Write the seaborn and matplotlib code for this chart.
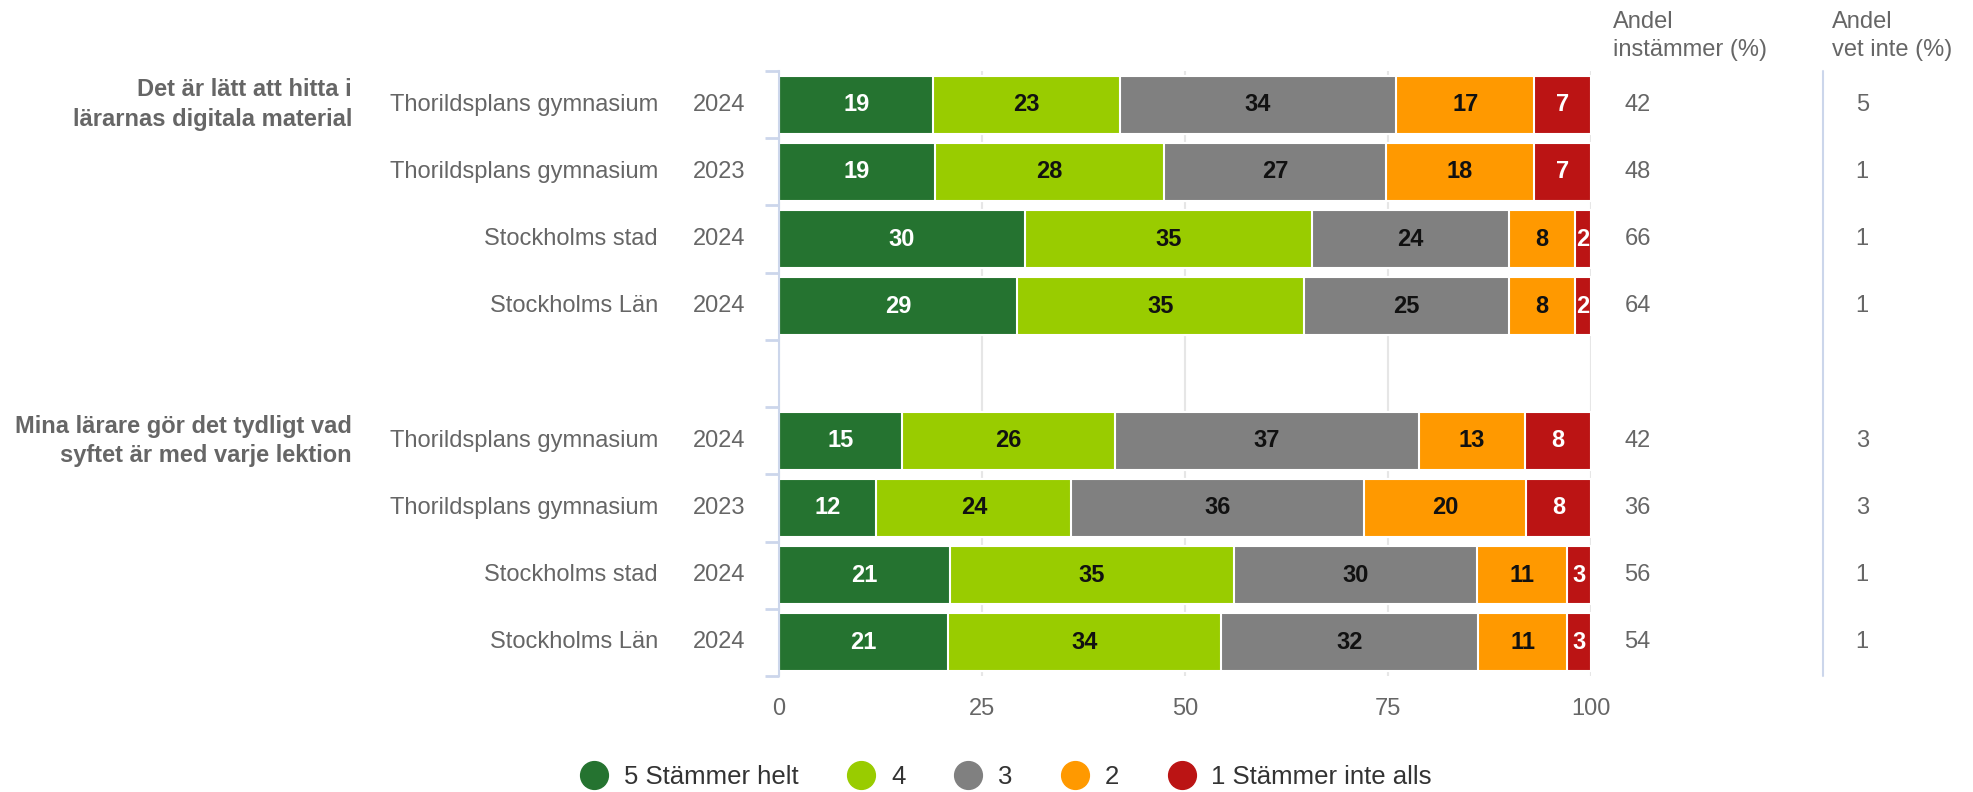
import numpy as np
import pandas as pd
import seaborn as sns
import matplotlib.pyplot as plt
from matplotlib.lines import Line2D

sns.set_theme(style="white")
plt.rcParams['font.family'] = ['Liberation Sans', 'DejaVu Sans']

questions = ['Det är lätt att hitta i\nlärarnas digitala material',
             'Mina lärare gör det tydligt vad\nsyftet är med varje lektion']
units = ['Thorildsplans gymnasium', 'Thorildsplans gymnasium', 'Stockholms stad', 'Stockholms Län']
years = ['2024', '2023', '2024', '2024']
levels = ['5 Stämmer helt', '4', '3', '2', '1 Stämmer inte alls']
colors = ['#257330', '#99cc00', '#808080', '#ff9900', '#bb1414']
label_colors = ['white', '#111111', '#111111', '#111111', 'white']

q1_values = [[19, 23, 34, 17, 7], [19, 28, 27, 18, 7], [30, 35, 24, 8, 2], [29, 35, 25, 8, 2]]
q2_values = [[15, 26, 37, 13, 8], [12, 24, 36, 20, 8], [21, 35, 30, 11, 3], [21, 34, 32, 11, 3]]
q1_agree = [42, 48, 66, 64]
q2_agree = [42, 36, 56, 54]
q1_dontknow = [5, 1, 1, 1]
q2_dontknow = [3, 3, 1, 1]

grey = '#666666'
fs = 17

# build table: one row per bar, cumulative shares (normalised to 100)
rows = []
for qi, (vals, agree, dk) in enumerate([(q1_values, q1_agree, q1_dontknow),
                                        (q2_values, q2_agree, q2_dontknow)]):
    for i, v in enumerate(vals):
        v = np.array(v, dtype=float)
        cum = np.cumsum(v / v.sum() * 100)
        r = {'row': f'q{qi}_{i}', 'q': qi, 'unit': units[i], 'year': years[i],
             'agree': agree[i], 'dk': dk[i]}
        for k in range(5):
            r[f'v{k}'] = int(v[k])
            r[f'cum{k}'] = cum[k]
        rows.append(r)
df = pd.DataFrame(rows)
order = [f'q0_{i}' for i in range(4)] + ['gap'] + [f'q1_{i}' for i in range(4)]

fig = plt.figure(figsize=(19.73, 7.92), dpi=100)
ax = fig.add_axes([779 / 1973, 1 - 676 / 792, 812 / 1973, 605 / 792])
ax.set_axisbelow(True)

for k in reversed(range(5)):
    sns.barplot(data=df, x=f'cum{k}', y='row', order=order, orient='h', color=colors[k],
                width=0.86, edgecolor='white', linewidth=1.5, errorbar=None,
                saturation=1, ax=ax)

ax.set_xlim(0, 100)
ax.set_ylim(8.5, -0.5)
ax.set_xlabel('')
ax.set_ylabel('')
ax.set_xticks([0, 25, 50, 75, 100])
ax.tick_params(axis='x', length=0, pad=16, labelsize=fs, labelcolor=grey)
ax.set_yticks([])
ax.set_yticks(np.arange(-0.5, 9, 1), minor=True)
ax.tick_params(axis='y', which='minor', left=True, length=10, width=2, color='#ccd6eb')
ax.grid(axis='x', color='#e6e6e6', linewidth=1.5)
for s in ['top', 'right', 'bottom']:
    ax.spines[s].set_visible(False)
ax.spines['left'].set_color('#ccd6eb')
ax.spines['left'].set_linewidth(1.5)

ytr = ax.get_yaxis_transform()
for _, r in df.iterrows():
    p = order.index(r['row'])
    start = 0
    for k in range(5):
        end = r[f'cum{k}']
        ax.text((start + end) / 2, p, str(r[f'v{k}']), ha='center', va='center',
                fontsize=fs, fontweight='bold', color=label_colors[k])
        start = end
    ax.text(-0.149, p, r['unit'], transform=ytr, ha='right', va='center', fontsize=fs, color=grey)
    ax.text(-0.042, p, r['year'], transform=ytr, ha='right', va='center', fontsize=fs, color=grey)
    ax.text(1.041, p, str(r['agree']), transform=ytr, ha='left', va='center', fontsize=fs, color=grey)
    ax.text(1.326, p, str(r['dk']), transform=ytr, ha='left', va='center', fontsize=fs, color=grey)

for qi, q in enumerate(questions):
    p = order.index(f'q{qi}_0')
    ax.text(-0.526, p, q, transform=ytr, ha='right', va='center', multialignment='right',
            fontsize=fs, fontweight='bold', color=grey, linespacing=1.35)

ax.plot([1.2857, 1.2857], [0, 1], transform=ax.transAxes, clip_on=False,
        color='#ccd6eb', linewidth=1.5)

fig.text(1613 / 1973, 1 - 36 / 792, 'Andel\ninstämmer (%)', ha='left', va='center',
         fontsize=fs, color=grey, linespacing=1.4)
fig.text(1832 / 1973, 1 - 36 / 792, 'Andel\nvet inte (%)', ha='left', va='center',
         fontsize=fs, color=grey, linespacing=1.4)

handles = [Line2D([], [], marker='o', linestyle='', markersize=20, color=c) for c in colors]
fig.legend(handles, levels, loc='center', bbox_to_anchor=(1006 / 1973, 1 - 777 / 792),
           ncol=5, frameon=False, fontsize=18.5, handlelength=1.1, handletextpad=0.6,
           columnspacing=1.9, labelcolor='#333333')

plt.savefig('out.png', dpi=100)
